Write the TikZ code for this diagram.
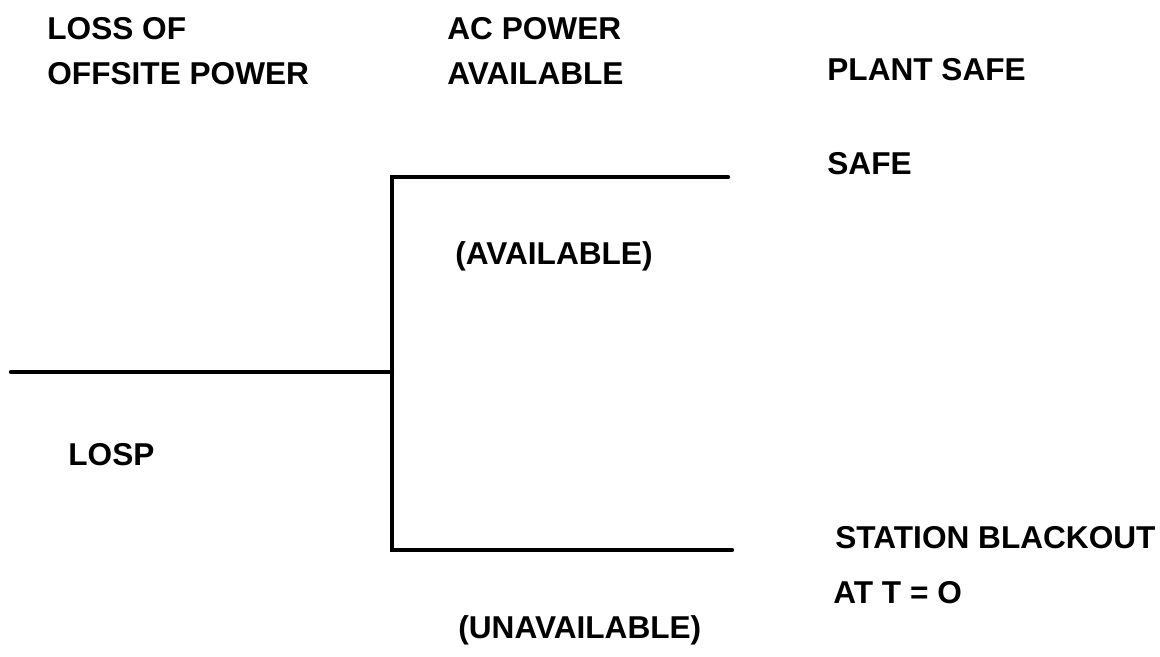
\documentclass[tikz,border=0pt]{standalone}
\usepackage{fontspec}
\setmainfont{Liberation Sans}
\begin{document}
\begin{tikzpicture}[x=0.5pt,y=-0.5pt,
  lbl/.style={anchor=west,inner sep=0pt,font=\fontsize{15.8}{18}\selectfont\bfseries},
  branch/.style={line width=2.2pt,line cap=round,line join=miter}]
\useasboundingbox (0,0) rectangle (1160,657);
\node[lbl] (h1a) at (47,29) {LOSS OF};
\node[lbl] (h1b) at (47,74) {OFFSITE POWER};
\node[lbl] (h2a) at (447,29) {AC POWER};
\node[lbl] (h2b) at (447,74) {AVAILABLE};
\node[lbl] (h3) at (827,70) {PLANT SAFE};
\node[lbl] (safe) at (827,164) {SAFE};
\node[lbl] (avail) at (455,256) {(AVAILABLE)};
\node[lbl] (losp) at (68,455) {LOSP};
\node[lbl] (sbo) at (835,538) {STATION BLACKOUT};
\node[lbl] (att) at (833,593) {AT T = O};
\node[lbl] (unavail) at (458,630) {(UNAVAILABLE)};
\coordinate (start) at (11,372);
\coordinate (split) at (392,372);
\coordinate (top) at (392,177);
\coordinate (bot) at (392,550);
\coordinate (topend) at (728,177);
\coordinate (botend) at (732,550);
\draw[branch] (start) -- (split);
\draw[branch] (topend) -- (top) -- (bot) -- (botend);
\end{tikzpicture}
\end{document}
